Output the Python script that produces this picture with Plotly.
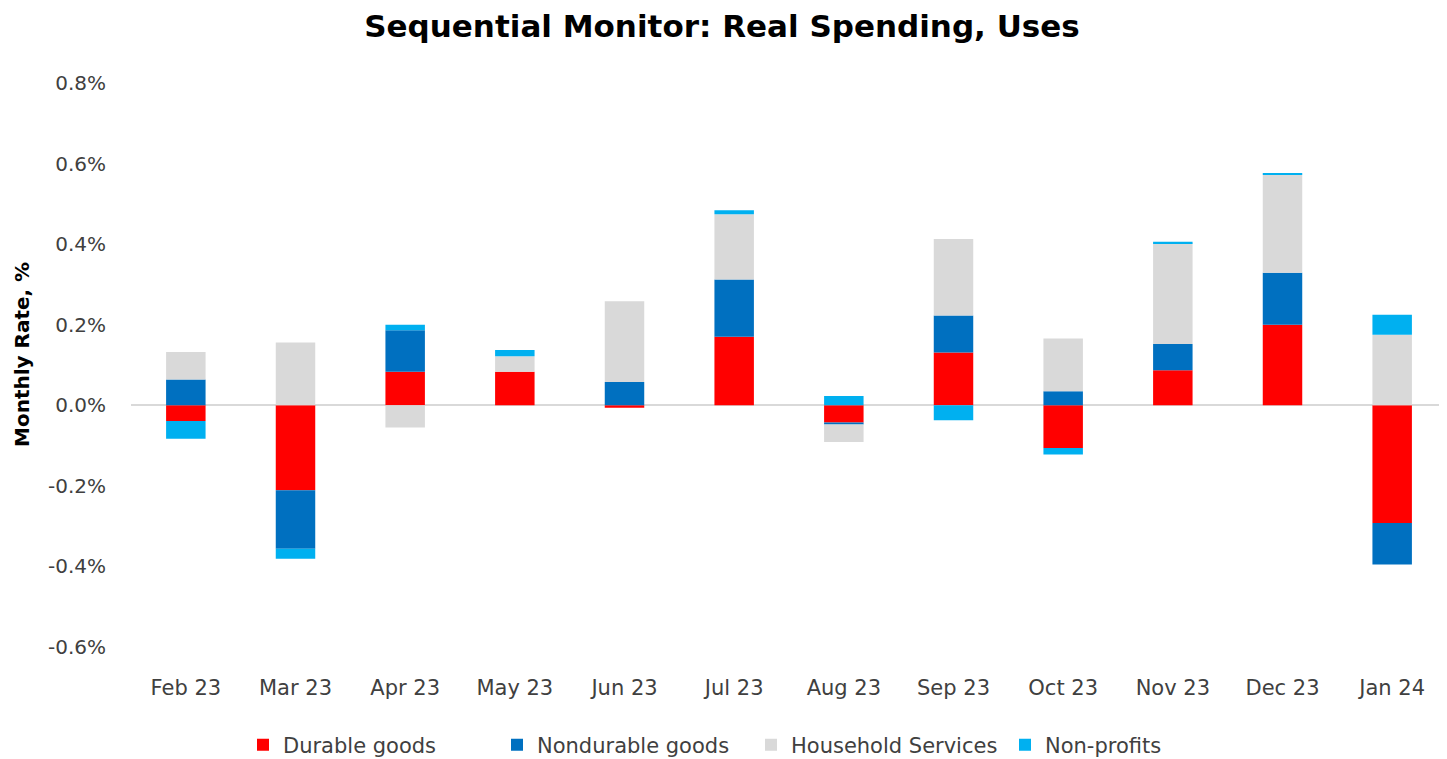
import plotly.graph_objects as go

months = ["Feb 23", "Mar 23", "Apr 23", "May 23", "Jun 23", "Jul 23",
          "Aug 23", "Sep 23", "Oct 23", "Nov 23", "Dec 23", "Jan 24"]

# Contributions to monthly real spending growth, percentage points
durable_goods = [-0.039, -0.211, 0.083, 0.083, -0.006, 0.170,
                 -0.043, 0.131, -0.106, 0.087, 0.200, -0.292]
nondurable_goods = [0.064, -0.145, 0.103, 0.000, 0.058, 0.142,
                    -0.005, 0.092, 0.035, 0.065, 0.129, -0.103]
household_services = [0.068, 0.156, -0.055, 0.039, 0.200, 0.162,
                      -0.043, 0.190, 0.131, 0.250, 0.243, 0.175]
non_profits = [-0.044, -0.025, 0.014, 0.015, 0.000, 0.010,
               0.023, -0.037, -0.016, 0.004, 0.004, 0.050]

y_tick_vals = [-0.6, -0.4, -0.2, 0.0, 0.2, 0.4, 0.6, 0.8]
y_tick_labels = ["-0.6%", "-0.4%", "-0.2%", "0.0%", "0.2%", "0.4%", "0.6%", "0.8%"]

series = [
    ("Durable goods", durable_goods, "#FF0000"),
    ("Nondurable goods", nondurable_goods, "#0070C0"),
    ("Household Services", household_services, "#D9D9D9"),
    ("Non-profits", non_profits, "#00B0F0"),
]

fig = go.Figure()
for name, vals, color in series:
    fig.add_trace(go.Bar(x=months, y=vals, name=name,
                         marker=dict(color=color, line=dict(width=0)),
                         width=0.36))

FONT = "'DejaVu Sans', sans-serif"
W, H = 1439, 751
L, T, B = 123, 75, 112
PW, PH = W - L, H - T - B
fig.update_layout(
    barmode="relative",
    width=W, height=H,
    margin=dict(l=L, r=0, t=T, b=B, autoexpand=False),
    paper_bgcolor="white", plot_bgcolor="white",
    font=dict(family=FONT, size=20, color="#404040"),
    title=dict(text="<b>Sequential Monitor: Real Spending, Uses</b>",
               xref="container", x=714 / W, xanchor="center",
               yref="container", y=1 - 18 / H, yanchor="middle",
               font=dict(family=FONT, size=31, color="#000000")),
    xaxis=dict(showgrid=False, showline=False, ticks="", zeroline=False,
               ticklabelstandoff=26,
               tickfont=dict(size=21, color="#404040")),
    yaxis=dict(range=[-0.6, 0.8], tickmode="array", tickvals=y_tick_vals,
               ticktext=y_tick_labels,
               showgrid=False, zeroline=True, zerolinecolor="#D9D9D9",
               zerolinewidth=1.5, showline=False, ticks="",
               ticklabelstandoff=24,
               tickfont=dict(size=20, color="#404040")),
    legend=dict(orientation="h", xref="container", x=235 / W, xanchor="left",
                yref="container", y=14 / H, yanchor="middle",
                font=dict(size=21, color="#404040"),
                traceorder="normal", itemwidth=30,
                entrywidth=209, entrywidthmode="pixels"),
    annotations=[dict(text="<b>Monthly Rate, %</b>", textangle=-90,
                      xref="paper", yref="paper",
                      x=(14 - L) / PW, y=1 - (347 - T) / PH,
                      xanchor="center", yanchor="middle", showarrow=False,
                      font=dict(family=FONT, size=20, color="#000000"))],
)

fig.write_html("out.html")
